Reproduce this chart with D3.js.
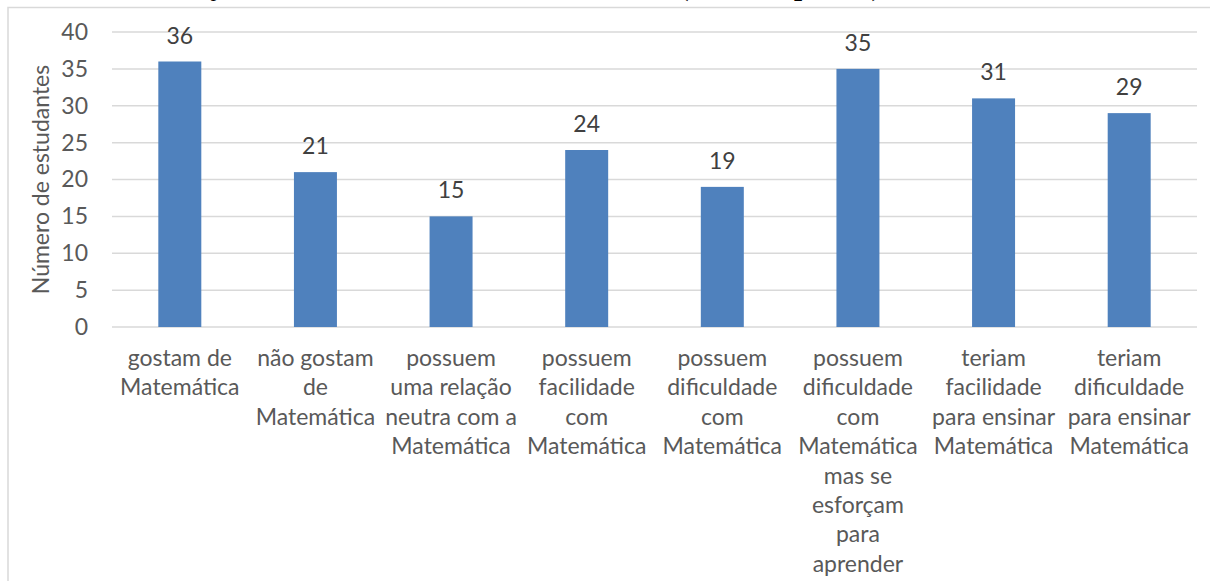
<!DOCTYPE html>
<html>
<head>
<meta charset="utf-8">
<script src="https://cdn.jsdelivr.net/npm/d3@7/dist/d3.min.js"></script>
<style>
  html, body { margin: 0; padding: 0; background: #fff; }
  svg { display: block; }
</style>
</head>
<body>
<svg id="chart" width="1210" height="581"></svg>
<script>
const categories = [
  "gostam de Matemática",
  "não gostam de Matemática",
  "possuem uma relação neutra com a Matemática",
  "possuem facilidade com Matemática",
  "possuem dificuldade com Matemática",
  "possuem dificuldade com Matemática mas se esforçam para aprender",
  "teriam facilidade para ensinar Matemática",
  "teriam dificuldade para ensinar Matemática"
];
const categoryLines = [
  ["gostam de", "Matemática"],
  ["não gostam", "de", "Matemática"],
  ["possuem", "uma relação", "neutra com a", "Matemática"],
  ["possuem", "facilidade", "com", "Matemática"],
  ["possuem", "dificuldade", "com", "Matemática"],
  ["possuem", "dificuldade", "com", "Matemática", "mas se", "esforçam", "para", "aprender"],
  ["teriam", "facilidade", "para ensinar", "Matemática"],
  ["teriam", "dificuldade", "para ensinar", "Matemática"]
];
const values = [36, 21, 15, 24, 19, 35, 31, 29];
const yTicks = [0, 5, 10, 15, 20, 25, 30, 35, 40];
const yTitle = "Número de estudantes";
const chartTitle = "Gráfico 3: Relação dos estudantes com a Matemática (n=36 respostas).";

const svg = d3.select("#chart");
const font = "Lato, 'Open Sans', sans-serif";
const fs = 23;

const plot = { left: 112, right: 1197, top: 32, bottom: 327 };

const x = d3.scaleBand().domain(d3.range(categories.length))
  .range([plot.left, plot.right]).paddingInner(0.683).paddingOuter(0.3415);
const y = d3.scaleLinear().domain([0, 40]).range([plot.bottom, plot.top]);

// Title (cropped at top of picture, as in the reference)
svg.append("text")
  .attr("x", 17).attr("y", -5)
  .attr("font-family", "'Liberation Serif', 'Times New Roman', serif")
  .attr("font-weight", "bold").attr("font-size", 29)
  .attr("fill", "#000")
  .text(chartTitle);

// Chart frame
svg.append("rect")
  .attr("x", 8).attr("y", 7.5).attr("width", 1220).attr("height", 600)
  .attr("fill", "#fff").attr("stroke", "#d9d9d9").attr("stroke-width", 1.5);

// Gridlines
svg.append("g").selectAll("line").data(yTicks).join("line")
  .attr("x1", plot.left).attr("x2", plot.right)
  .attr("y1", d => y(d)).attr("y2", d => y(d))
  .attr("stroke", "#d9d9d9").attr("stroke-width", 1.5);

// Y axis labels
const yAxis = d3.axisLeft(y).tickValues(yTicks).tickSize(0).tickPadding(0);
const gy = svg.append("g").attr("transform", `translate(${plot.left - 24},0)`).call(yAxis);
gy.select(".domain").remove();
gy.selectAll("text").attr("font-family", font).attr("font-size", fs).attr("fill", "#595959");

// Y axis title
svg.append("text")
  .attr("transform", `translate(49,${(plot.top + plot.bottom) / 2}) rotate(-90)`)
  .attr("text-anchor", "middle")
  .attr("font-family", font).attr("font-size", fs).attr("fill", "#595959")
  .text(yTitle);

// Bars
svg.append("g").selectAll("rect").data(values).join("rect")
  .attr("x", (d, i) => x(i)).attr("width", x.bandwidth())
  .attr("y", d => y(d)).attr("height", d => y(0) - y(d))
  .attr("fill", "#4f81bd");

// Data labels
svg.append("g").selectAll("text").data(values).join("text")
  .attr("x", (d, i) => x(i) + x.bandwidth() / 2)
  .attr("y", d => y(d) - 18)
  .attr("text-anchor", "middle")
  .attr("font-family", font).attr("font-size", fs).attr("fill", "#404040")
  .text(d => d);

// Category labels
const gx = svg.append("g");
categoryLines.forEach((lines, i) => {
  const t = gx.append("text")
    .attr("text-anchor", "middle")
    .attr("font-family", font).attr("font-size", fs).attr("fill", "#595959");
  lines.forEach((ln, j) => {
    t.append("tspan")
      .attr("x", x(i) + x.bandwidth() / 2)
      .attr("y", 366 + j * 29.4)
      .text(ln);
  });
});
</script>
</body>
</html>
